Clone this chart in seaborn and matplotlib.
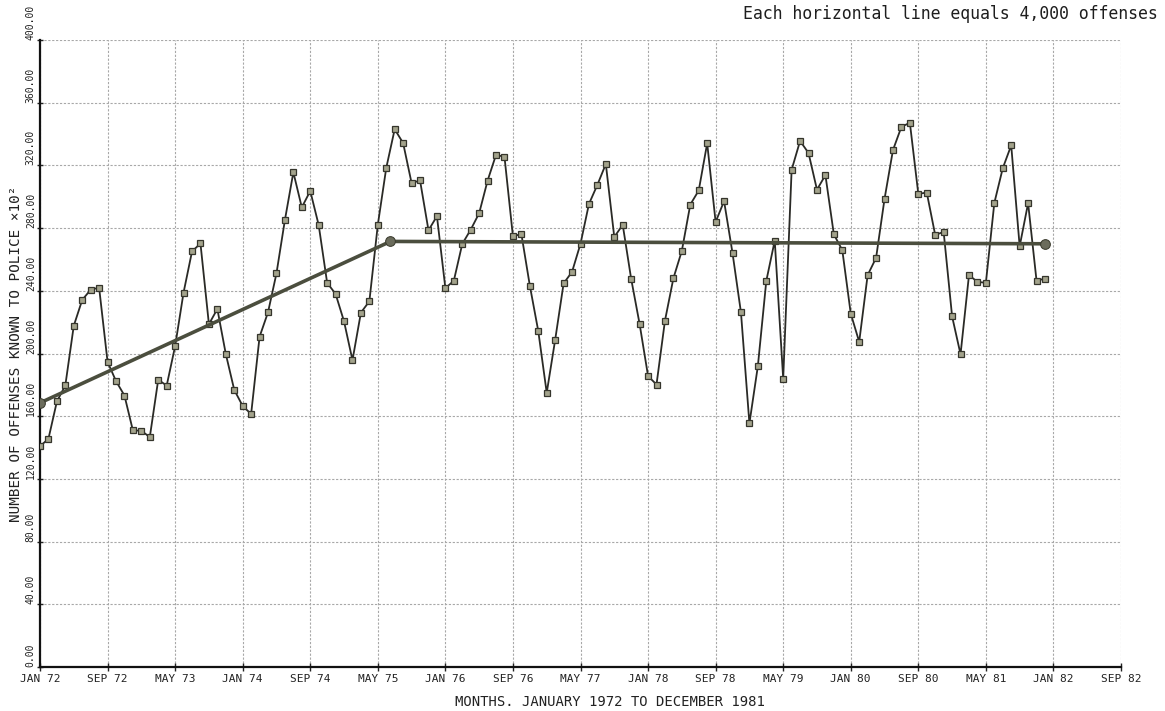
import numpy as np
import pandas as pd
import matplotlib
matplotlib.use("Agg")
import matplotlib.pyplot as plt
import seaborn as sns

# Monthly offenses known to police (x10^2), Jan 1972 .. Dec 1981
offenses_1972 = [140.8, 145.6, 169.4, 179.7, 217.7, 234.2, 240.7, 242.0, 194.7, 182.4, 173.2, 150.9]
offenses_1973 = [150.8, 146.6, 183.3, 179.5, 204.7, 238.9, 265.1, 270.2, 218.7, 228.4, 199.7, 176.8]
offenses_1974 = [166.5, 161.4, 210.7, 226.3, 251.1, 285.2, 315.6, 293.2, 303.7, 281.9, 245.1, 238.0]
offenses_1975 = [220.5, 195.7, 226.1, 233.3, 282.1, 318.4, 343.1, 334.2, 308.7, 310.4, 278.6, 287.6]
offenses_1976 = [241.7, 246.4, 269.9, 279.0, 289.5, 310.3, 326.8, 325.4, 274.8, 276.2, 243.3, 214.3]
offenses_1977 = [174.9, 208.7, 244.7, 252.1, 270.0, 295.4, 307.6, 320.9, 274.3, 282.1, 247.6, 218.8]
offenses_1978 = [185.6, 180.2, 220.9, 248.0, 265.5, 295.0, 304.0, 334.1, 283.9, 297.2, 264.1, 226.2]
offenses_1979 = [155.4, 191.9, 246.3, 272.0, 184.0, 317.2, 335.6, 327.9, 304.5, 313.8, 276.0, 265.9]
offenses_1980 = [225.5, 207.4, 250.0, 261.0, 298.6, 329.8, 344.6, 347.2, 301.8, 302.7, 275.6, 277.6]
offenses_1981 = [223.7, 199.5, 250.0, 245.7, 245.1, 296.0, 318.2, 332.8, 268.4, 295.9, 246.4, 247.8]

offenses = (offenses_1972 + offenses_1973 + offenses_1974 + offenses_1975 + offenses_1976 +
            offenses_1977 + offenses_1978 + offenses_1979 + offenses_1980 + offenses_1981)

# Trend line knots (month index, value)
trend_month = [0, 41.5, 119]
trend_value = [168.5, 271.5, 270.0]

xtick_labels = ["JAN 72", "SEP 72", "MAY 73", "JAN 74", "SEP 74", "MAY 75", "JAN 76",
                "SEP 76", "MAY 77", "JAN 78", "SEP 78", "MAY 79", "JAN 80", "SEP 80",
                "MAY 81", "JAN 82", "SEP 82"]
ytick_values = [0, 40, 80, 120, 160, 200, 240, 280, 320, 360, 400]

sns.set_theme(style="white")
plt.rcParams["font.family"] = ["DejaVu Sans Mono", "DejaVu Sans"]

W, H = 1165, 711
fig = plt.figure(figsize=(W / 100, H / 100), dpi=100)
fig.patch.set_facecolor("white")
ax = fig.add_axes([40 / W, 44 / H, 1081 / W, 627 / H])
ax.set_facecolor("white")

df = pd.DataFrame({"month": np.arange(len(offenses)), "offenses": offenses})
tdf = pd.DataFrame({"month": trend_month, "value": trend_value})

sns.lineplot(data=df, x="month", y="offenses", ax=ax, color="#2a2a26", lw=1.3,
             marker="s", markersize=4.5, markerfacecolor="#a3a38c",
             markeredgecolor="#35352c", markeredgewidth=0.9, zorder=3)
sns.lineplot(data=tdf, x="month", y="value", ax=ax, color="#4b4e3e", lw=2.6,
             marker="o", markersize=7, markerfacecolor="#6b6c5c",
             markeredgecolor="#3c3d30", zorder=4)

ax.set_xlim(0, 128)
ax.set_ylim(0, 400)
ax.set_xticks(list(range(0, 129, 8)))
ax.set_xticklabels(xtick_labels)
ax.set_yticks(ytick_values)
ax.set_yticklabels([f"{v:.2f}" for v in ytick_values])

ax.set_axisbelow(True)
ax.grid(True, linestyle=(0, (2, 1.5)), color="#a8a8a8", linewidth=0.8)

for s in ["top", "right"]:
    ax.spines[s].set_visible(False)
for s in ["left", "bottom"]:
    ax.spines[s].set_color("#111111")
    ax.spines[s].set_linewidth(1.6)

ax.tick_params(axis="x", direction="inout", length=6, width=1, pad=2,
               labelsize=8, colors="#222222", bottom=True)
ax.tick_params(axis="y", direction="inout", length=5, width=1, pad=0.5,
               labelsize=7, colors="#222222", left=True)
for lab in ax.get_yticklabels():
    lab.set_rotation(90)
    lab.set_rotation_mode("anchor")
    lab.set_ha("left")
    lab.set_va("bottom")

ax.set_xlabel("MONTHS. JANUARY 1972 TO DECEMBER 1981", fontsize=10, color="#222222")
ax.xaxis.set_label_coords((610 - 40) / 1081, -0.045)
ax.set_ylabel("NUMBER OF OFFENSES KNOWN TO POLICE ×10²", fontsize=10.3, color="#222222")
ax.yaxis.set_label_coords(-0.0155, 0.5)

fig.text(743 / W, 1 - 14 / H, "Each horizontal line equals 4,000 offenses",
         fontsize=11.9, ha="left", va="center", color="#1e1e1e")

fig.savefig("out.png", dpi=100, facecolor="white")
